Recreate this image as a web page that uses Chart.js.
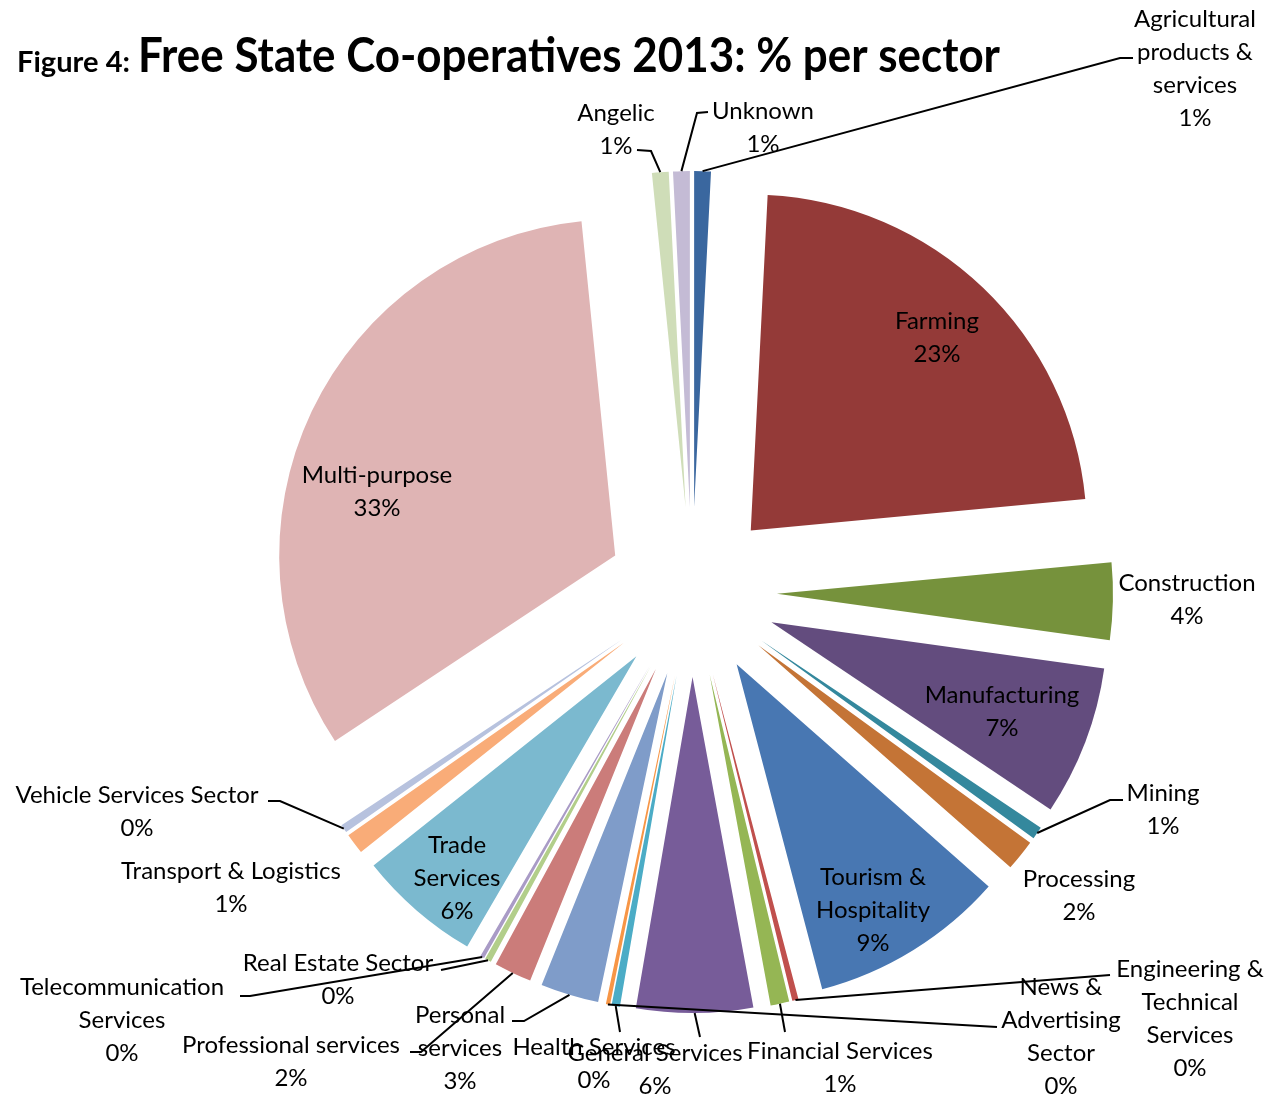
<!DOCTYPE html>
<html>
<head>
<meta charset="utf-8">
<script src="https://cdn.jsdelivr.net/npm/chart.js@4.4.1/dist/chart.umd.min.js"></script>
<style>
  body { margin: 0; background: #fff; }
  #mycanvas { display: block; }
</style>
</head>
<body>
<canvas id="mycanvas" width="1269" height="1107"></canvas>
<script>
// sectors, clockwise from 12 o'clock (line breaks as in the data labels)
var sectors = [
  ['Agricultural', 'products &', 'services'],
  ['Farming'],
  ['Construction'],
  ['Manufacturing'],
  ['Mining'],
  ['Processing'],
  ['Tourism &', 'Hospitality'],
  ['Engineering &', 'Technical', 'Services'],
  ['Financial Services'],
  ['General Services'],
  ['Health Services'],
  ['News &', 'Advertising', 'Sector'],
  ['Personal', 'services'],
  ['Professional services'],
  ['Real Estate Sector'],
  ['Telecommunication', 'Services'],
  ['Trade', 'Services'],
  ['Transport & Logistics'],
  ['Vehicle Services Sector'],
  ['Multi-purpose'],
  ['Angelic'],
  ['Unknown']
];

// share of co-operatives, %
var shares = [0.8, 22.7, 3.7, 7.2, 0.6, 1.5, 9.4, 0.3, 0.9, 5.6, 0.4,
              0.2, 2.8, 1.8, 0.3, 0.2, 5.9, 1.0, 0.4, 32.7, 0.8, 0.8];

var colours = ['#3A679F', '#943A38', '#76923C', '#634C7E', '#34889D', '#C47436',
               '#4877B2', '#C0504D', '#95B654', '#775C99', '#4BACC6', '#F79646',
               '#7F9CC9', '#CB7C7A', '#B2CE8A', '#A99BC6', '#7BB9CF', '#F9AC78',
               '#B7C2DE', '#DFB4B4', '#CFDDB8', '#C4BBD5'];

// where each data label sits (centre of first line) and its leader line start
var labelAt = [
  [1195, 19], [937, 321], [1187, 583], [1002, 695], [1163, 793], [1079, 879],
  [873, 877], [1190, 969], [840, 1051], [655, 1053], [594, 1047], [1061, 987],
  [460, 1015], [291, 1045], [338, 963], [122, 987], [457, 845], [231, 871],
  [137, 795], [377, 475], [616, 113], [763, 111]
];
var leaders = {
  0: [[1133, 58], [1120, 58]],
  4: [[1123, 800], [1110, 800]],
  7: [[1110, 975]],
  8: [[785, 1032]],
  9: [[700, 1037]],
  10: [[620, 1032]],
  11: [[997, 1027]],
  12: [[512, 1021], [524, 1021]],
  13: [[410, 1052], [421, 1052]],
  14: [[441, 970]],
  15: [[240, 996], [250, 996]],
  18: [[268, 801], [280, 801]],
  20: [[637, 150], [651, 151]],
  21: [[708, 112], [697, 113]]
};

var EXPLODE = 85;
var LINE_H = 33;
var FONT = 'Lato, "Open Sans", sans-serif';

// pull every slice out from the centre
var explode = {
  id: 'explode',
  beforeDatasetsDraw: function(chart) {
    var a = chart.chartArea;
    var cx = (a.left + a.right) / 2, cy = (a.top + a.bottom) / 2;
    chart.getDatasetMeta(0).data.forEach(function(arc) {
      var mid = (arc.startAngle + arc.endAngle) / 2;
      arc.x = cx + EXPLODE * Math.cos(mid);
      arc.y = cy + EXPLODE * Math.sin(mid);
    });
  }
};

var dataLabels = {
  id: 'dataLabels',
  afterDatasetsDraw: function(chart) {
    var c = chart.ctx;
    var arcs = chart.getDatasetMeta(0).data;
    c.save();
    c.strokeStyle = '#000';
    c.lineWidth = 2;
    for (var k in leaders) {
      var arc = arcs[k];
      var mid = (arc.startAngle + arc.endAngle) / 2;
      var pts = leaders[k];
      c.beginPath();
      c.moveTo(pts[0][0], pts[0][1]);
      for (var j = 1; j < pts.length; j++) c.lineTo(pts[j][0], pts[j][1]);
      c.lineTo(arc.x + arc.outerRadius * Math.cos(mid), arc.y + arc.outerRadius * Math.sin(mid));
      c.stroke();
    }
    c.fillStyle = '#000';
    c.font = '24px ' + FONT;
    c.textAlign = 'center';
    c.textBaseline = 'middle';
    for (var i = 0; i < sectors.length; i++) {
      var lines = sectors[i].concat([Math.round(shares[i]) + '%']);
      for (var n = 0; n < lines.length; n++) {
        c.fillText(lines[n], labelAt[i][0], labelAt[i][1] + n * LINE_H);
      }
    }
    c.restore();
  }
};

// squeeze text to the width it has in the figure
function fitText(c, text, x, y, width) {
  var w = c.measureText(text).width;
  c.save();
  c.translate(x, y);
  c.scale(width / w, 1);
  c.fillText(text, 0, 0);
  c.restore();
}

var heading = {
  id: 'heading',
  afterDraw: function(chart) {
    var c = chart.ctx;
    c.save();
    c.fillStyle = '#000';
    c.textAlign = 'left';
    c.textBaseline = 'alphabetic';
    c.font = 'bold 28px ' + FONT;
    fitText(c, 'Figure 4:', 17, 72, 113);
    c.font = 'bold 48px ' + FONT;
    fitText(c, 'Free State Co-operatives 2013: % per sector', 138, 72, 862);
    c.restore();
  }
};

var ctx = document.getElementById('mycanvas');

var pieChart = new Chart(ctx, {
  type: 'pie',
  data: {
    labels: sectors.map(function(s) { return s.join(' '); }),
    datasets: [{
      data: shares,
      backgroundColor: colours,
      borderWidth: 0
    }]
  },
  options: {
    responsive: false,
    animation: false,
    layout: { padding: { left: 356, right: 241, top: 256, bottom: 179 } },
    plugins: {
      legend: { display: false },
      tooltip: { enabled: false }
    }
  },
  plugins: [explode, dataLabels, heading]
});
</script>
</body>
</html>
